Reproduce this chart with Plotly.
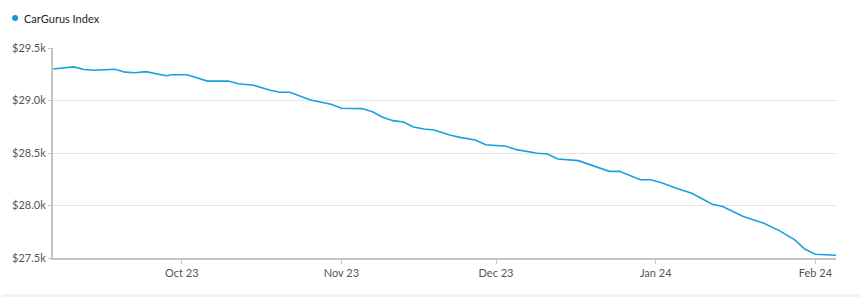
import plotly.graph_objects as go

dates = [
    "2023-09-06", "2023-09-10", "2023-09-12", "2023-09-14", "2023-09-18", "2023-09-20",
    "2023-09-22", "2023-09-24", "2023-09-28", "2023-09-29", "2023-10-02", "2023-10-06",
    "2023-10-10", "2023-10-12", "2023-10-15", "2023-10-18", "2023-10-20", "2023-10-22",
    "2023-10-26", "2023-10-30", "2023-11-01", "2023-11-05", "2023-11-07", "2023-11-09",
    "2023-11-11", "2023-11-13", "2023-11-15", "2023-11-17", "2023-11-19", "2023-11-22",
    "2023-11-24", "2023-11-27", "2023-11-29", "2023-12-03", "2023-12-05", "2023-12-09",
    "2023-12-11", "2023-12-13", "2023-12-17", "2023-12-21", "2023-12-23", "2023-12-25",
    "2023-12-29", "2023-12-31", "2024-01-02", "2024-01-05", "2024-01-08", "2024-01-12",
    "2024-01-14", "2024-01-18", "2024-01-22", "2024-01-25", "2024-01-28", "2024-01-30",
    "2024-02-01", "2024-02-05",
]
index_values = [
    29300, 29320, 29295, 29288, 29297, 29270,
    29265, 29275, 29236, 29245, 29245, 29185,
    29185, 29160, 29145, 29100, 29078, 29078,
    29005, 28964, 28926, 28923, 28893, 28840,
    28808, 28795, 28748, 28729, 28719, 28671,
    28649, 28624, 28579, 28564, 28532, 28497,
    28490, 28443, 28427, 28363, 28325, 28325,
    28245, 28245, 28219, 28165, 28117, 28012,
    27990, 27895, 27831, 27761, 27673, 27583,
    27536, 27526,
]
series_name = "CarGurus Index"
y_tick_vals = [27500, 28000, 28500, 29000, 29500]
y_tick_text = ["$27.5k", "$28.0k", "$28.5k", "$29.0k", "$29.5k"]
x_range = ["2023-09-06", "2024-02-05"]

line_color = "#1a9fdf"
font_family = "Lato, 'Open Sans', sans-serif"

fig = go.Figure()
fig.add_trace(go.Scatter(
    x=dates, y=index_values, mode="lines", name=series_name,
    line=dict(color=line_color, width=1.6), showlegend=False,
))

fig.update_layout(
    width=860, height=297,
    margin=dict(l=51, r=24, t=48, b=39),
    paper_bgcolor="white", plot_bgcolor="white",
    font=dict(family=font_family, size=11, color="#555555"),
    xaxis=dict(
        type="date", range=x_range, tickformat="%b %y", dtick="M1",
        tick0="2023-10-01",
        showgrid=False, showline=True, linecolor="#c4c4c4", linewidth=2,
        ticks="outside", ticklen=4, tickcolor="#c4c4c4", tickwidth=1,
        tickfont=dict(size=11, color="#555555"), zeroline=False,
    ),
    yaxis=dict(
        range=[27500, 29500], tickvals=y_tick_vals, ticktext=y_tick_text,
        showgrid=True, gridcolor="#e6e6e6", gridwidth=1,
        showline=True, linecolor="#c4c4c4", linewidth=2,
        ticks="outside", ticklen=3, tickcolor="#c4c4c4", tickwidth=1,
        tickfont=dict(size=11, color="#555555"), zeroline=False,
    ),
    shapes=[
        dict(type="circle", xref="paper", yref="paper",
             xsizemode="pixel", ysizemode="pixel",
             xanchor=(13 - 51) / 785, yanchor=(258 - 18) / 210,
             x0=-3, x1=3, y0=-3, y1=3,
             fillcolor="#0d9ad8", line=dict(width=0)),
        dict(type="rect", xref="paper", yref="paper",
             x0=-51 / 785, x1=1 + 24 / 785,
             y0=(258 - 297) / 210, y1=(258 - 294) / 210,
             fillcolor="#f2f2f2", line=dict(width=0), layer="below"),
    ],
    annotations=[
        dict(text=series_name, xref="paper", yref="paper",
             x=(20 - 51) / 785, y=(258 - 18) / 210,
             xanchor="left", yanchor="middle", showarrow=False,
             font=dict(family=font_family, size=11, color="#222222")),
    ],
)

fig.write_html("out.html")
